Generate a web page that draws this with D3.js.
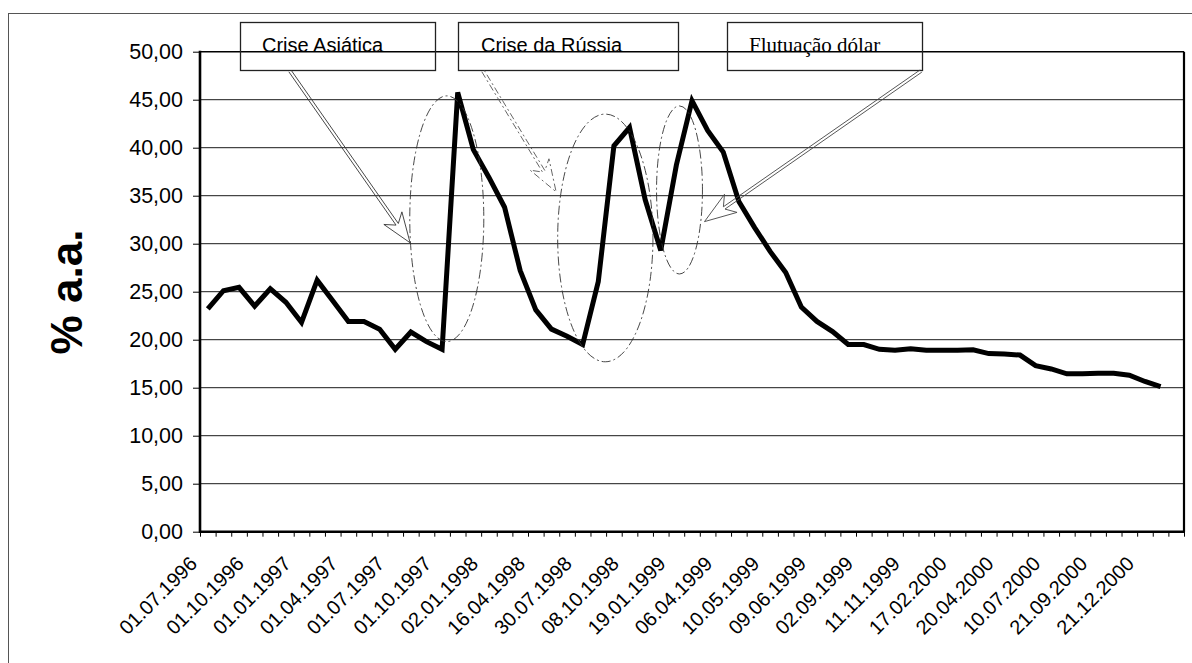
<!DOCTYPE html>
<html>
<head>
<meta charset="utf-8">
<script src="https://cdn.jsdelivr.net/npm/d3@7"></script>
<style>
  html, body { margin: 0; padding: 0; background: #fff; }
  svg { display: block; }
</style>
</head>
<body>
<svg id="chart" width="1192" height="663"></svg>
<script>
// Number of category slots on the x axis (last slot is left empty)
const categoryCount = 63;
// A date label is printed on every third category
const labelEvery = 3;
const dateLabels = [
  "01.07.1996", "01.10.1996", "01.01.1997", "01.04.1997", "01.07.1997",
  "01.10.1997", "02.01.1998", "16.04.1998", "30.07.1998", "08.10.1998",
  "19.01.1999", "06.04.1999", "10.05.1999", "09.06.1999", "02.09.1999",
  "11.11.1999", "17.02.2000", "20.04.2000", "10.07.2000", "21.09.2000",
  "21.12.2000"
];
// Interest rate, % a.a., one value per category
const rates = [
  23.2, 25.1, 25.45, 23.5, 25.3, 23.9, 21.8, 26.2, 24.05, 21.9, 21.9, 21.1, 19.0, 20.8, 19.8, 19.0,
  45.75, 39.8, 36.9, 33.8, 27.2, 23.1, 21.1, 20.35, 19.5, 26.05, 40.2, 42.1, 34.6, 29.3, 38.2,
  44.9, 41.8, 39.55, 34.4, 31.7, 29.2, 27.0, 23.4,
  21.9, 20.85, 19.5, 19.5, 19.0, 18.9, 19.05, 18.9, 18.9, 18.9, 18.95, 18.55, 18.5, 18.4,
  17.3, 16.95, 16.45, 16.45, 16.5, 16.5, 16.3, 15.65, 15.1
];
const yTickValues = [0, 5, 10, 15, 20, 25, 30, 35, 40, 45, 50];
const yAxisTitle = "% a.a.";
const crisisNotes = ["Crise Asiática", "Crise da Rússia", "Flutuação dólar"];

const svg = d3.select("#chart");
const SANS = "'Liberation Sans', Arial, sans-serif";
const SERIF = "'Liberation Serif', 'Times New Roman', serif";

const plot = { left: 200, right: 1184, top: 51.7, bottom: 531.7 };

const xEdge = d3.scaleLinear().domain([0, categoryCount]).range([plot.left, plot.right]);
const xMid = i => xEdge(i + 0.5);
const y = d3.scaleLinear().domain([0, 50]).range([plot.bottom, plot.top]);

// outer chart frame
svg.append("rect")
  .attr("x", 8.5).attr("y", 13.5)
  .attr("width", 1200).attr("height", 670)
  .attr("fill", "none").attr("stroke", "#555").attr("stroke-width", 1);

// horizontal gridlines
svg.append("g")
  .selectAll("line")
  .data(yTickValues.filter(v => v > 0 && v < 50))
  .join("line")
  .attr("x1", plot.left).attr("x2", plot.right)
  .attr("y1", d => y(d)).attr("y2", d => y(d))
  .attr("stroke", "#1a1a1a").attr("stroke-width", 1);

// y axis with comma decimals
const fmt = d => d3.format(".2f")(d).replace(".", ",");
const yAxis = svg.append("g")
  .attr("transform", `translate(${plot.left},0)`)
  .call(d3.axisLeft(y).tickValues(yTickValues).tickSize(7).tickPadding(10).tickFormat(fmt));
yAxis.select(".domain").remove();
yAxis.selectAll(".tick line").attr("stroke", "#000").attr("stroke-width", 1);
yAxis.selectAll(".tick text")
  .attr("fill", "#000")
  .style("font-family", SANS).style("font-size", "21.5px");

// x axis tick marks at category boundaries
const xAxis = svg.append("g")
  .attr("transform", `translate(0,${plot.bottom})`)
  .call(d3.axisBottom(xEdge).tickValues(d3.range(0, categoryCount + 1)).tickSize(5).tickFormat(""));
xAxis.select(".domain").remove();
xAxis.selectAll(".tick line").attr("stroke", "#000").attr("stroke-width", 1);

// rotated date labels
svg.append("g")
  .selectAll("text")
  .data(dateLabels)
  .join("text")
  .attr("transform", (d, k) => `translate(${xMid(k * labelEvery) - 9.5},565) rotate(-45)`)
  .attr("text-anchor", "end")
  .style("font-family", SANS).style("font-size", "20px")
  .attr("fill", "#000")
  .text(d => d);

// y axis title
svg.append("text")
  .attr("transform", `translate(82,292) rotate(-90)`)
  .attr("text-anchor", "middle")
  .style("font-family", SANS).style("font-size", "44px").style("font-weight", "bold")
  .attr("fill", "#000")
  .text(yAxisTitle);

// plot frame
const frame = svg.append("g").attr("stroke", "#000").attr("fill", "none");
frame.append("line").attr("x1", plot.left).attr("x2", plot.right).attr("y1", plot.top).attr("y2", plot.top).attr("stroke-width", 1.6);
frame.append("line").attr("x1", plot.right).attr("x2", plot.right).attr("y1", plot.top).attr("y2", plot.bottom).attr("stroke-width", 2.2);
frame.append("line").attr("x1", plot.left).attr("x2", plot.left).attr("y1", plot.top - 1).attr("y2", plot.bottom + 1).attr("stroke-width", 2.6);
frame.append("line").attr("x1", plot.left - 1).attr("x2", plot.right + 1).attr("y1", plot.bottom).attr("y2", plot.bottom).attr("stroke-width", 2.6);

// the rate series
const line = d3.line().x((d, i) => xMid(i)).y(d => y(d));
svg.append("path")
  .datum(rates)
  .attr("d", line)
  .attr("fill", "none")
  .attr("stroke", "#000")
  .attr("stroke-width", 5)
  .attr("stroke-linejoin", "miter")
  .attr("stroke-miterlimit", 3);

// ---- annotations ----
const ann = svg.append("g");

// dashed ellipses around the crisis episodes (centre index, centre value, half-width in categories, half-height in %)
const rings = [
  { ci: 15.3, cv: 32.6, ri: 2.37, rv: 12.8 },
  { ci: 25.45, cv: 30.6, ri: 3.05, rv: 12.9 },
  { ci: 30.2, cv: 35.6, ri: 1.47, rv: 8.75 }
];
ann.selectAll("ellipse")
  .data(rings)
  .join("ellipse")
  .attr("cx", d => xEdge(d.ci + 0.5))
  .attr("cy", d => y(d.cv))
  .attr("rx", d => xEdge(d.ri) - xEdge(0))
  .attr("ry", d => y(0) - y(d.rv))
  .attr("fill", "none")
  .attr("stroke", "#333")
  .attr("stroke-width", 0.9)
  .attr("stroke-dasharray", "9,3,2,3");

// note boxes
const boxes = [
  { x: 240, w: 195, tx: 262, font: SANS, size: 20 },
  { x: 458, w: 220, tx: 481, font: SANS, size: 20 },
  { x: 727, w: 195, tx: 749, font: SERIF, size: 21 }
];
boxes.forEach((b, k) => {
  ann.append("rect")
    .attr("x", b.x + 0.5).attr("y", 22.5)
    .attr("width", b.w).attr("height", 48)
    .attr("fill", "none").attr("stroke", "#222").attr("stroke-width", 1.3);
  ann.append("text")
    .attr("x", b.tx).attr("y", 52)
    .style("font-family", b.font).style("font-size", b.size + "px")
    .attr("fill", "#000")
    .text(crisisNotes[k]);
});

// outlined block arrows from each note to its episode
function arrowPath(S, T, headLen, headHalf, shaftHalf) {
  const dx = T[0] - S[0], dy = T[1] - S[1];
  const L = Math.hypot(dx, dy);
  const u = [dx / L, dy / L], n = [-u[1], u[0]];
  const p = (a, b) => [T[0] + u[0] * a + n[0] * b, T[1] + u[1] * a + n[1] * b];
  const notch = -headLen * 0.75;
  const pts = [
    [S[0] + n[0] * shaftHalf, S[1] + n[1] * shaftHalf],
    p(notch, shaftHalf), p(-headLen, headHalf), T,
    p(-headLen, -headHalf), p(notch, -shaftHalf),
    [S[0] - n[0] * shaftHalf, S[1] - n[1] * shaftHalf]
  ];
  return d3.line()(pts);
}
const arrows = [
  { from: [290, 71], ti: 12.95, tv: 30.1, head: 30, dash: null, color: "#333" },
  { from: [483, 71], ti: 22.3, tv: 35.4, head: 32, dash: "7,3,2,3", color: "#555" },
  { from: [921, 71], ti: 31.8, tv: 32.3, head: 32, dash: null, color: "#444" }
];
arrows.forEach(a => {
  ann.append("path")
    .attr("d", arrowPath(a.from, [xEdge(a.ti + 0.5), y(a.tv)], a.head, 11, 1.4))
    .attr("fill", "none")
    .attr("stroke", a.color)
    .attr("stroke-width", 0.9)
    .attr("stroke-dasharray", a.dash);
});
</script>
</body>
</html>
